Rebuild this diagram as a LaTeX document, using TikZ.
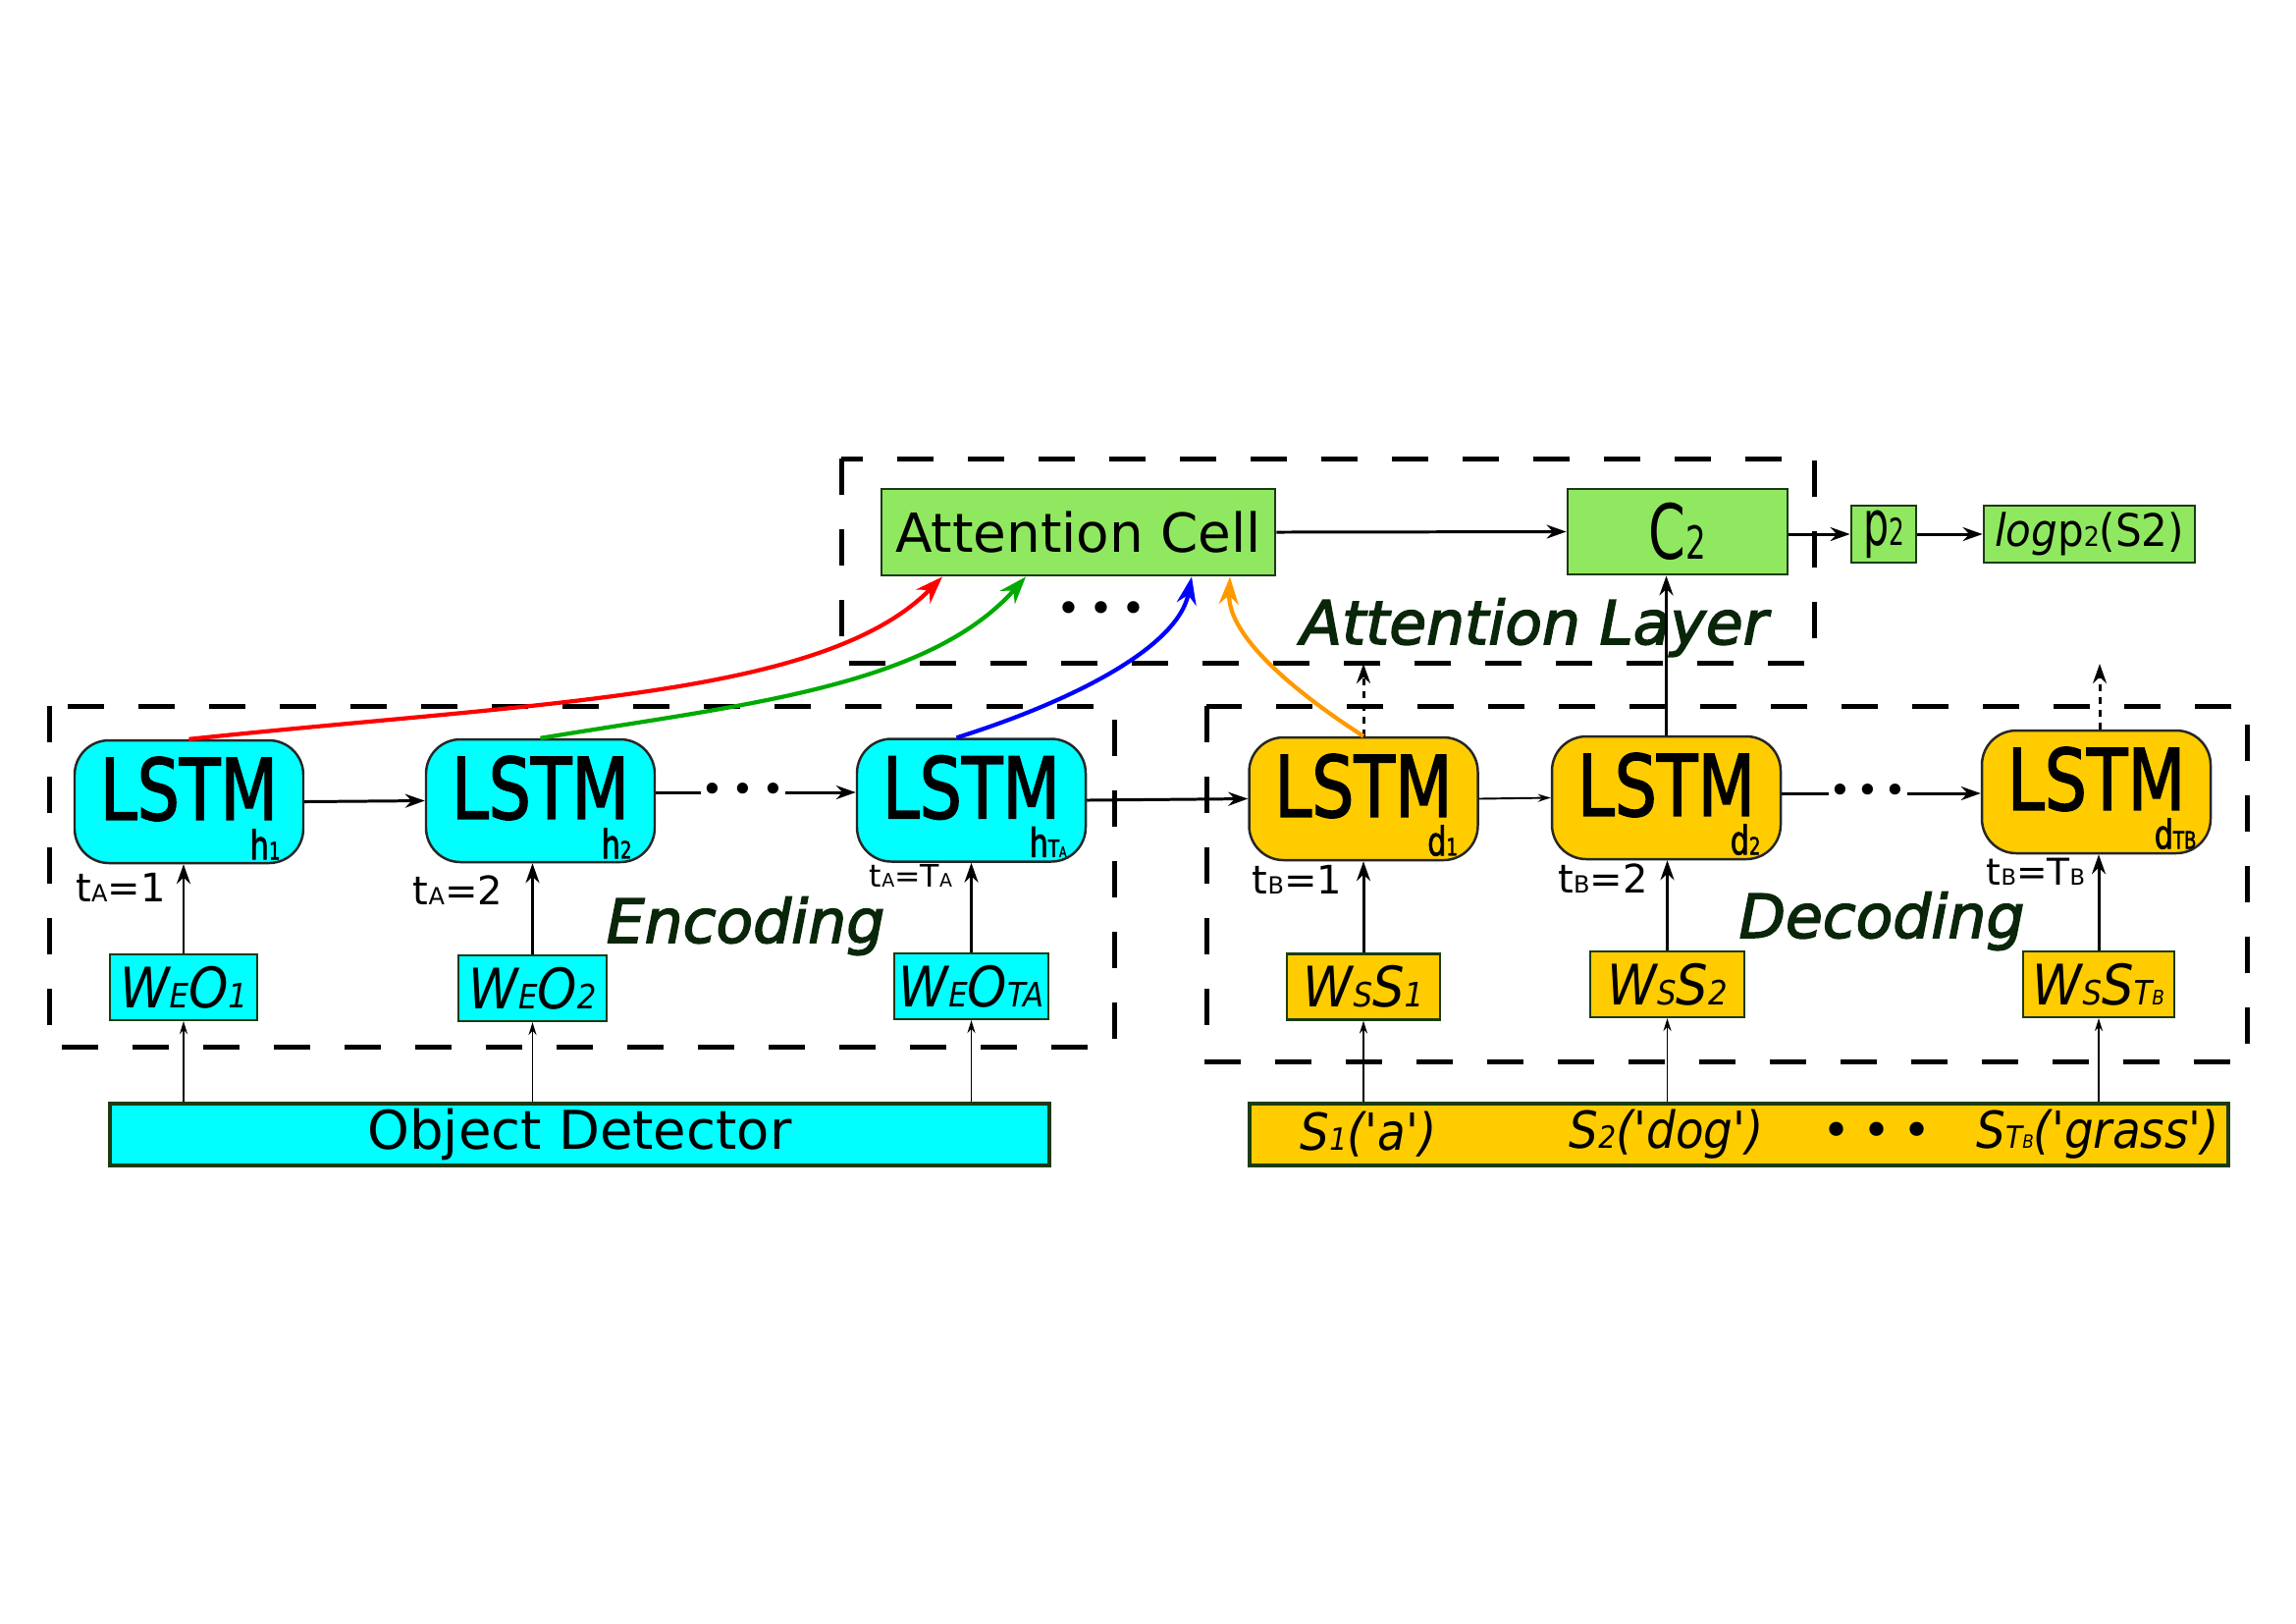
\documentclass[tikz,border=0pt]{standalone}
\usepackage{fontspec}
\setmainfont{DejaVu Sans}
\newfontfamily\layerfont{DejaVu Sans}[FakeBold=2.5]
\newfontfamily\lstmfont{DejaVu Sans}[FakeBold=2]
\usepackage{graphicx}
\usetikzlibrary{arrows.meta}

\newcommand\sm[1]{\scalebox{0.6}{#1}}
\newcommand\nar[2]{\scalebox{#1}[1]{#2}}
\newcommand\threedots[1]{\textbullet\hspace{#1}\textbullet\hspace{#1}\textbullet}

\definecolor{encblue}{HTML}{00FFFF}
\definecolor{decgold}{HTML}{FFCC00}
\definecolor{attgreen}{HTML}{90E860}
\definecolor{edgegreen}{HTML}{1C3A14}
\definecolor{labgreen}{HTML}{0A260A}
\definecolor{feedgreen}{HTML}{00AA00}
\definecolor{feedorange}{HTML}{FF9900}

\begin{document}
\begin{tikzpicture}[x=1cm,y=-1cm,
    lstm/.style={draw=black!85,line width=0.7pt,rounded corners=0.35cm,minimum width=2.33cm,minimum height=1.25cm,inner sep=0pt,
      label={[inner sep=0pt,yshift=0.13cm,font=\lstmfont\fontsize{24.5}{26}\selectfont]center:\nar{0.79}{LSTM}}},
    enc/.style={fill=encblue},
    dec/.style={fill=decgold},
    wbox/.style={draw=edgegreen,line width=0.6pt,minimum height=0.67cm,inner sep=0pt,font=\fontsize{16.2}{18}\selectfont\itshape},
    attbox/.style={draw=edgegreen,fill=attgreen,line width=0.8pt,inner sep=0pt},
    bar/.style={draw=edgegreen,line width=0.9pt,minimum height=0.63cm,inner sep=0pt},
    word/.style={font=\fontsize{14.8}{16}\selectfont\itshape,inner sep=0pt},
    layer/.style={draw=black,line width=0.05cm,dash pattern=on 0.37cm off 0.35cm},
    layerlabel/.style={anchor=base,text=labgreen,inner sep=0pt,font=\layerfont\fontsize{17.5}{20}\selectfont\itshape},
    tlabel/.style={anchor=base,inner sep=0pt,font=\fontsize{11.4}{13}\selectfont},
    hlabel/.style={anchor=base east,inner sep=0pt,font=\lstmfont\fontsize{11.5}{13}\selectfont},
    dots/.style={inner sep=0pt,font=\fontsize{11}{12}\selectfont},
    arr/.style={-{Stealth[length=0.2cm,width=0.14cm]},line width=0.85pt},
    thin/.style={-{Stealth[length=0.13cm,width=0.08cm]},line width=0.55pt},
    feed/.style={-{Stealth[length=0.28cm,width=0.2cm]},line width=1.2pt}
  ]
  \useasboundingbox (0,0) rectangle (23.39,16.53);

  \draw[layer] (8.57,4.67) rectangle (18.48,6.75);
  \draw[layer] (0.50,7.19) rectangle (11.35,10.66);
  \draw[layer] (12.29,7.19) rectangle (22.89,10.81);

  \node[attbox,minimum width=4.01cm,minimum height=0.88cm,font=\fontsize{15.6}{18}\selectfont] (att) at (10.985,5.42) {Attention Cell};
  \node[attbox,minimum width=2.24cm,minimum height=0.87cm,font=\fontsize{22}{24}\selectfont] (c2) at (17.09,5.415) {\nar{0.7}{C\sm{2}}};
  \node[attbox,minimum width=0.66cm,minimum height=0.58cm,font=\fontsize{18}{20}\selectfont] (p2) at (19.19,5.44) {\nar{0.65}{p\sm{2}}};
  \node[attbox,minimum width=2.15cm,minimum height=0.58cm,font=\fontsize{13}{15}\selectfont] (logp) at (21.285,5.44) {\nar{0.92}{\textit{log}p\sm{2}(S2)}};
  \node[dots,font=\fontsize{12}{13}\selectfont] (attdots) at (11.22,6.24) {\threedots{0.08cm}};
  \node[layerlabel] (attlab) at (15.63,6.56) {Attention Layer};

  \node[lstm,enc] (h1) at (1.925,8.165) {};
  \node[lstm,enc] (h2) at (5.505,8.155) {};
  \node[lstm,enc] (hT) at (9.895,8.15) {};
  \node[lstm,dec] (d1) at (13.89,8.135) {};
  \node[lstm,dec] (d2) at (16.975,8.125) {};
  \node[lstm,dec] (dT) at (21.355,8.065) {};

  \node[hlabel] (h1lab) at ([xshift=-0.24cm,yshift=0.05cm]h1.south east) {\nar{0.75}{h\sm{1}}};
  \node[hlabel] (h2lab) at ([xshift=-0.24cm,yshift=0.05cm]h2.south east) {\nar{0.75}{h\sm{2}}};
  \node[hlabel] (hTlab) at ([xshift=-0.2cm,yshift=0.06cm]hT.south east) {\nar{0.75}{h\sm{T\sm{A}}}};
  \node[hlabel] (d1lab) at ([xshift=-0.21cm,yshift=0.06cm]d1.south east) {\nar{0.75}{d\sm{1}}};
  \node[hlabel] (d2lab) at ([xshift=-0.21cm,yshift=0.06cm]d2.south east) {\nar{0.75}{d\sm{2}}};
  \node[hlabel] (dTlab) at ([xshift=-0.15cm,yshift=0.06cm]dT.south east) {\nar{0.75}{d\sm{TB}}};

  \node[tlabel] (ta1) at (1.23,9.18) {t\sm{A}=1};
  \node[tlabel] (ta2) at (4.665,9.21) {t\sm{A}=2};
  \node[tlabel,font=\fontsize{9}{11}\selectfont] (taT) at (9.28,9.03) {t\sm{A}=T\sm{A}};
  \node[tlabel] (tb1) at (13.215,9.10) {t\sm{B}=1};
  \node[tlabel] (tb2) at (16.33,9.09) {t\sm{B}=2};
  \node[tlabel,font=\fontsize{10.7}{12}\selectfont] (tbT) at (20.74,9.01) {t\sm{B}=T\sm{B}};

  \node[layerlabel] (enclab) at (7.595,9.60) {Encoding};
  \node[layerlabel] (declab) at (19.17,9.55) {Decoding};

  \node[wbox,enc,minimum width=1.50cm] (we1) at (1.87,10.055) {\nar{0.9}{W\sm{E}O\sm{1}}};
  \node[wbox,enc,minimum width=1.51cm] (we2) at (5.425,10.065) {\nar{0.9}{W\sm{E}O\sm{2}}};
  \node[wbox,enc,minimum width=1.57cm] (weT) at (9.895,10.045) {\nar{0.9}{W\sm{E}O\sm{TA}}};
  \node[wbox,dec,minimum width=1.56cm] (ws1) at (13.89,10.05) {\nar{0.9}{W\sm{S}S\sm{1}}};
  \node[wbox,dec,minimum width=1.57cm] (ws2) at (16.985,10.025) {\nar{0.9}{W\sm{S}S\sm{2}}};
  \node[wbox,dec,minimum width=1.54cm] (wsT) at (21.38,10.025) {\nar{0.9}{W\sm{S}S\sm{T\sm{B}}}};

  \node[bar,enc,minimum width=9.57cm,font=\fontsize{15.5}{18}\selectfont] (det) at (5.905,11.555) {Object Detector};
  \node[bar,dec,minimum width=9.97cm] (sent) at (17.715,11.555) {};
  \node[word] (s1) at (13.94,11.555) {\nar{0.9}{S\sm{1}(\textquotesingle a\textquotesingle)}};
  \node[word] (s2) at (16.975,11.555) {\nar{0.9}{S\sm{2}(\textquotesingle dog\textquotesingle)}};
  \node[dots,font=\fontsize{14}{15}\selectfont] (sentdots) at (19.12,11.555) {\threedots{0.12cm}};
  \node[word] (sT) at (21.37,11.555) {\nar{0.9}{S\sm{T\sm{B}}(\textquotesingle grass\textquotesingle)}};

  \node[dots] (encdots) at (7.57,8.07) {\threedots{0.08cm}};
  \node[dots] (decdots) at (19.03,8.08) {\threedots{0.05cm}};

  \draw[arr] (h1.east) -- (h2.west);
  \draw[line width=0.85pt] (h2.east |- encdots) -- (encdots.west);
  \draw[arr] (encdots.east) -- (hT.west |- encdots);
  \draw[arr] (hT.east) -- (d1.west);
  \draw[thin] (d1.east) -- (d2.west);
  \draw[line width=0.85pt] (d2.east |- decdots) -- (decdots.west);
  \draw[arr] (decdots.east) -- (dT.west |- decdots);

  \draw[arr] (we1.north) -- (we1.north |- h1.south);
  \draw[arr] (we2.north) -- (we2.north |- h2.south);
  \draw[arr] (weT.north) -- (weT.north |- hT.south);
  \draw[arr] (ws1.north) -- (ws1.north |- d1.south);
  \draw[arr] (ws2.north) -- (ws2.north |- d2.south);
  \draw[arr] (wsT.north) -- (wsT.north |- dT.south);

  \draw[thin] (we1 |- det.north) -- (we1.south);
  \draw[thin] (we2 |- det.north) -- (we2.south);
  \draw[thin] (weT |- det.north) -- (weT.south);
  \draw[thin] (ws1 |- sent.north) -- (ws1.south);
  \draw[thin] (ws2 |- sent.north) -- (ws2.south);
  \draw[thin] (wsT |- sent.north) -- (wsT.south);

  \draw[arr] (att.east) -- (c2.west);
  \draw[arr] (c2.east |- p2) -- (p2.west);
  \draw[arr] (p2.east) -- (logp.west);
  \draw[arr] (d2.north) -- (d2.north |- c2.south);
  \coordinate (d1up) at (13.89,6.76);
  \coordinate (dTup) at (21.39,6.76);
  \draw[arr,dash pattern=on 0.07cm off 0.06cm] (d1.north) -- (d1up);
  \draw[arr,dash pattern=on 0.07cm off 0.06cm] (dTup |- dT.north) -- (dTup);

  \draw[feed,red] (h1.north) .. controls (5.5,7.15) and (8.4,7.1) .. ([xshift=-1.385cm]att.south);
  \draw[feed,feedgreen] (h2.north) .. controls (7.55,7.18) and (9.45,7.0) .. ([xshift=-0.535cm]att.south);
  \draw[feed,blue] ([xshift=-0.15cm]hT.north) .. controls (10.9,7.15) and (12.0,6.6) .. ([xshift=1.155cm]att.south);
  \draw[feed,feedorange] (d1.north) .. controls (13.27,7.1) and (12.5,6.5) .. ([xshift=1.545cm]att.south);
\end{tikzpicture}
\end{document}
